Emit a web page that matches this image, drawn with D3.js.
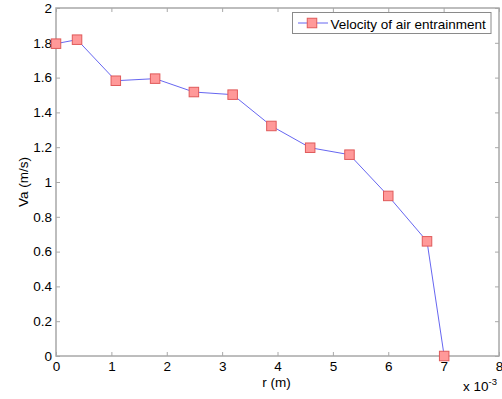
<!DOCTYPE html>
<html>
<head>
<meta charset="utf-8">
<script src="https://cdn.jsdelivr.net/npm/d3@7"></script>
<style>
  html, body { margin: 0; padding: 0; background: #fff; }
  svg { display: block; }
  text { font-family: "Liberation Sans", Arial, sans-serif; fill: #000; }
</style>
</head>
<body>
<script>
// Radial position r (in units of 1e-3 m) and measured entrainment velocity Va (m/s)
const rValues = [0.00, 0.38, 1.08, 1.79, 2.49, 3.19, 3.89, 4.59, 5.30, 6.00, 6.70, 7.01];
const vaValues = [1.795, 1.818, 1.582, 1.594, 1.517, 1.502, 1.322, 1.197, 1.157, 0.920, 0.659, 0.0];
const xTicks = [0, 1, 2, 3, 4, 5, 6, 7, 8];
const yTicks = [0, 0.2, 0.4, 0.6, 0.8, 1, 1.2, 1.4, 1.6, 1.8, 2];
const seriesName = "Velocity of air entrainment";

const W = 502, H = 399;
const plotL = 56, plotR = 499, plotT = 8, plotB = 356;
const fs = 13.5;

const svg = d3.select("body").append("svg").attr("width", W).attr("height", H);

const x = d3.scaleLinear().domain([0, 8]).range([plotL, plotR]);
const y = d3.scaleLinear().domain([0, 2]).range([plotB, plotT]);

const axisColor = "#a8a8a8";
const tickLen = 4;

// Box around plot area
svg.append("rect")
  .attr("x", plotL).attr("y", plotT)
  .attr("width", plotR - plotL).attr("height", plotB - plotT)
  .attr("fill", "none").attr("stroke", axisColor).attr("stroke-width", 1.5);

function styleAxis(g) {
  g.select(".domain").remove();
  g.selectAll(".tick line").attr("stroke", axisColor).attr("stroke-width", 1);
  g.selectAll(".tick text").attr("font-size", fs).attr("fill", "#000");
}

// Bottom axis (inward ticks)
svg.append("g").attr("transform", `translate(0,${plotB})`)
  .call(d3.axisBottom(x).tickValues(xTicks).tickFormat(d3.format("d"))
    .tickSizeInner(-tickLen).tickSizeOuter(0).tickPadding(5.5))
  .call(styleAxis);

// Top axis: ticks only
svg.append("g").attr("transform", `translate(0,${plotT})`)
  .call(d3.axisTop(x).tickValues(xTicks).tickFormat("")
    .tickSizeInner(-tickLen).tickSizeOuter(0))
  .call(styleAxis);

// Left axis
svg.append("g").attr("transform", `translate(${plotL},0)`)
  .call(d3.axisLeft(y).tickValues(yTicks).tickFormat(d => d3.format("~g")(d))
    .tickSizeInner(-tickLen).tickSizeOuter(0).tickPadding(4))
  .call(styleAxis);

// Right axis: ticks only
svg.append("g").attr("transform", `translate(${plotR},0)`)
  .call(d3.axisRight(y).tickValues(yTicks).tickFormat("")
    .tickSizeInner(-tickLen).tickSizeOuter(0))
  .call(styleAxis);

// Axis labels
svg.append("text").attr("x", (plotL + plotR) / 2 - 1).attr("y", 387)
  .attr("text-anchor", "middle").attr("font-size", fs).text("r (m)");

svg.append("text")
  .attr("transform", `translate(28,${(plotT + plotB) / 2}) rotate(-90)`)
  .attr("text-anchor", "middle").attr("font-size", fs).text("Va (m/s)");

// Exponent multiplier
const mult = svg.append("text").attr("x", 463).attr("y", 391).attr("font-size", fs);
mult.append("tspan").text("x 10");
mult.append("tspan").attr("font-size", 9.5).attr("dy", -6).text("-3");

// Data line
const data = rValues.map((r, i) => ({ r, v: vaValues[i] }));
const lineColor = "#5555ee";
const markerFill = "#ff9999";
const markerStroke = "#e05a5a";
const ms = 9.5;

svg.append("path")
  .datum(data)
  .attr("fill", "none").attr("stroke", lineColor).attr("stroke-width", 0.9)
  .attr("d", d3.line().x(d => x(d.r)).y(d => y(d.v)));

svg.append("g").selectAll("rect")
  .data(data).join("rect")
  .attr("x", d => x(d.r) - ms / 2).attr("y", d => y(d.v) - ms / 2)
  .attr("width", ms).attr("height", ms)
  .attr("fill", markerFill).attr("stroke", markerStroke).attr("stroke-width", 1);

// Legend
const lg = svg.append("g");
lg.append("rect").attr("x", 292.5).attr("y", 12.5).attr("width", 198.5).attr("height", 21)
  .attr("fill", "#fff").attr("stroke", "#8a8a8a").attr("stroke-width", 1);
lg.append("line").attr("x1", 298).attr("x2", 328).attr("y1", 23).attr("y2", 23)
  .attr("stroke", lineColor).attr("stroke-width", 0.9);
lg.append("rect").attr("x", 312 - ms / 2).attr("y", 23 - ms / 2).attr("width", ms).attr("height", ms)
  .attr("fill", markerFill).attr("stroke", markerStroke).attr("stroke-width", 1);
lg.append("text").attr("x", 330.5).attr("y", 28.5).attr("font-size", fs).text(seriesName);
</script>
</body>
</html>
